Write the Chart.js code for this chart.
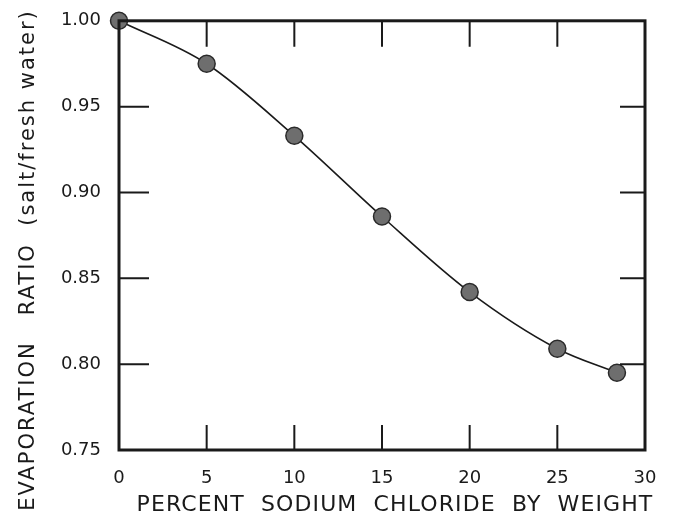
<!DOCTYPE html>
<html lang="en">
<head>
    <meta charset="UTF-8">
    <title>Evaporation ratio vs. salt content</title>
    <script src="https://cdn.jsdelivr.net/npm/chart.js"></script>
    <style>
        html, body {
            margin: 0;
            padding: 0;
            background: #ffffff;
        }
        .chart-box {
            width: 674px;
            height: 520px;
            position: relative;
        }
    </style>
</head>
<body>

<div class="chart-box">
    <canvas id="evapChart"></canvas>
</div>

<script>
    // measured points: percent NaCl by weight -> evaporation ratio (salt / fresh water)
    const saltPercent = [0, 5, 10, 15, 20, 25, 28.4];
    const evapRatio = [1.000, 0.975, 0.933, 0.886, 0.842, 0.809, 0.795];

    const xTickValues = [0, 5, 10, 15, 20, 25, 30];
    const yTickValues = [0.75, 0.80, 0.85, 0.90, 0.95, 1.00];

    const xTitle = 'PERCENT  SODIUM  CHLORIDE  BY  WEIGHT';
    const yTitle = 'EVAPORATION   RATIO  (salt/fresh water)';

    const ink = '#1a1a1a';
    const tickFont = { family: 'DejaVu Sans', size: 18 };

    // frame around the plot with the ticks pointing inward on all four sides
    const frameTicks = {
        id: 'frameTicks',
        afterDatasetsDraw(chart) {
            const { ctx, chartArea: a, scales } = chart;
            ctx.save();
            ctx.strokeStyle = ink;
            ctx.lineWidth = 3;
            ctx.strokeRect(a.left, a.top, a.right - a.left, a.bottom - a.top);

            ctx.lineWidth = 2;
            ctx.beginPath();
            xTickValues.slice(1, -1).forEach(v => {
                const px = scales.x.getPixelForValue(v);
                ctx.moveTo(px, a.bottom);
                ctx.lineTo(px, a.bottom - 25);
                ctx.moveTo(px, a.top);
                ctx.lineTo(px, a.top + 26);
            });
            yTickValues.slice(1, -1).forEach(v => {
                const py = scales.y.getPixelForValue(v);
                ctx.moveTo(a.left, py);
                ctx.lineTo(a.left + 30, py);
                ctx.moveTo(a.right, py);
                ctx.lineTo(a.right - 25, py);
            });
            ctx.stroke();
            ctx.restore();
        }
    };

    // axis titles, letter-spaced like the lettering on the original plate
    const axisTitles = {
        id: 'axisTitles',
        afterDraw(chart) {
            const { ctx, chartArea: a } = chart;
            ctx.save();
            ctx.fillStyle = ink;
            ctx.textAlign = 'center';
            ctx.textBaseline = 'alphabetic';

            ctx.font = '22px "DejaVu Sans"';
            ctx.letterSpacing = '1.1px';
            ctx.fillText(xTitle, (a.left + a.right) / 2 + 13, 511);

            ctx.font = '21px "DejaVu Sans"';
            ctx.letterSpacing = '2px';
            ctx.translate(34, 260);
            ctx.rotate(-Math.PI / 2);
            ctx.fillText(yTitle, 0, 0);
            ctx.restore();
        }
    };

    const points = saltPercent.map((x, i) => ({ x: x, y: evapRatio[i] }));

    new Chart(document.getElementById('evapChart'), {
        type: 'scatter',
        data: {
            datasets: [{
                data: points,
                showLine: true,
                cubicInterpolationMode: 'monotone',
                borderColor: ink,
                borderWidth: 1.6,
                pointRadius: 8.5,
                pointBorderWidth: 1.5,
                pointBackgroundColor: '#6e6e6e',
                pointBorderColor: '#2a2a2a',
                clip: false
            }]
        },
        options: {
            responsive: true,
            maintainAspectRatio: false,
            animation: false,
            layout: {
                padding: { top: 13, right: 29, left: 0, bottom: 0 }
            },
            plugins: {
                legend: { display: false },
                tooltip: { enabled: false }
            },
            scales: {
                x: {
                    type: 'linear',
                    min: 0,
                    max: 30,
                    afterBuildTicks(scale) {
                        scale.ticks = xTickValues.map(v => ({ value: v }));
                    },
                    afterFit(scale) {
                        scale.height = 70;
                    },
                    grid: { display: false },
                    border: { display: false },
                    ticks: {
                        color: ink,
                        font: tickFont,
                        padding: 10,
                        maxRotation: 0
                    }
                },
                y: {
                    type: 'linear',
                    min: 0.75,
                    max: 1.00,
                    afterBuildTicks(scale) {
                        scale.ticks = yTickValues.map(v => ({ value: v }));
                    },
                    afterFit(scale) {
                        scale.width = 119;
                    },
                    grid: { display: false },
                    border: { display: false },
                    ticks: {
                        color: ink,
                        font: tickFont,
                        padding: 10,
                        callback: v => v.toFixed(2)
                    }
                }
            }
        },
        plugins: [frameTicks, axisTitles]
    });
</script>

</body>
</html>
